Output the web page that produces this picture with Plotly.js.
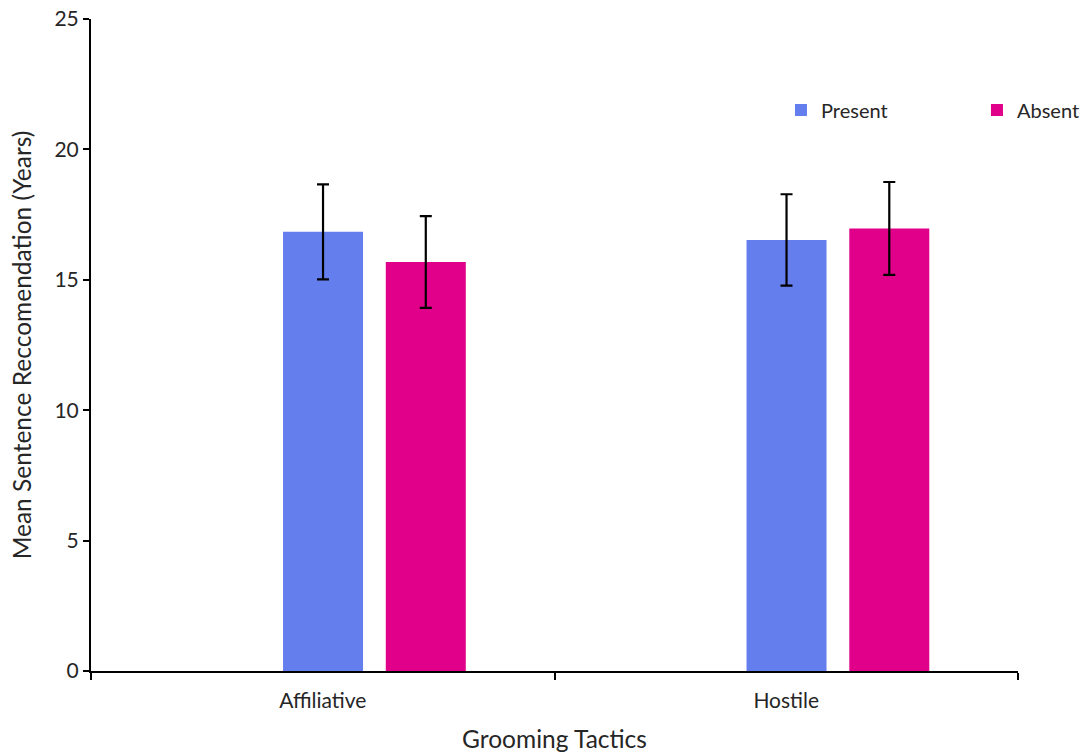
<!DOCTYPE html>
<html>
<head>
<meta charset="utf-8">
<script src="https://cdn.plot.ly/plotly-3.0.1.min.js"></script>
<style>html,body{margin:0;padding:0;background:#fff;}#chart{width:1085px;height:753px;}</style>
</head>
<body>
<div id="chart"></div>
<script>
var categories = ["Affiliative", "Hostile"];
var presentValues = [16.84, 16.53];
var presentErrors = [1.82, 1.75];
var absentValues = [15.68, 16.97];
var absentErrors = [1.76, 1.78];
var yTicks = [0, 5, 10, 15, 20, 25];

var FONT = "Lato, 'Open Sans', sans-serif";
var TXT = "#262626";

var traces = [
  {
    type: "bar", name: "Present", x: categories, y: presentValues,
    marker: {color: "#657EEE"},
    width: 0.1726, offset: -0.0857,
    error_y: {type: "data", array: presentErrors, visible: true, color: "#000", thickness: 2.2, width: 6}
  },
  {
    type: "bar", name: "Absent", x: categories, y: absentValues,
    marker: {color: "#E0008A"},
    width: 0.1726, offset: 0.136,
    error_y: {type: "data", array: absentErrors, visible: true, color: "#000", thickness: 2.2, width: 6}
  }
];

var layout = {
  width: 1085, height: 753,
  margin: {l: 91, r: 67, t: 19, b: 82, autoexpand: false},
  paper_bgcolor: "#fff", plot_bgcolor: "#fff",
  barmode: "overlay",
  showlegend: true,
  font: {family: FONT, color: TXT, size: 21},
  legend: {
    orientation: "h", x: 0.7443, xanchor: "left", y: 0.8604, yanchor: "middle",
    font: {family: FONT, size: 20, color: TXT},
    entrywidth: 151, entrywidthmode: "pixels", itemwidth: 30,
    bgcolor: "rgba(0,0,0,0)"
  },
  xaxis: {
    type: "category", range: [-0.5, 1.5],
    showline: true, linecolor: "#000", linewidth: 2,
    ticks: "outside", tickson: "boundaries", ticklen: 7, tickwidth: 2, tickcolor: "#000",
    ticklabelstandoff: 10,
    showgrid: false, zeroline: false,
    tickfont: {family: FONT, size: 21, color: TXT},
    title: {text: "Grooming Tactics", font: {family: FONT, size: 24.5, color: TXT}, standoff: 20}
  },
  yaxis: {
    range: [0, 25], tickvals: yTicks, ticktext: yTicks.map(String),
    showline: true, linecolor: "#000", linewidth: 2,
    ticks: "outside", ticklen: 6, tickwidth: 2, tickcolor: "#000",
    showgrid: false, zeroline: false,
    tickfont: {family: FONT, size: 21, color: TXT},
    title: {text: "Mean Sentence Reccomendation (Years)", font: {family: FONT, size: 24.5, color: TXT}, standoff: 16}
  }
};

Plotly.newPlot("chart", traces, layout, {displayModeBar: false, staticPlot: true});
</script>
</body>
</html>
